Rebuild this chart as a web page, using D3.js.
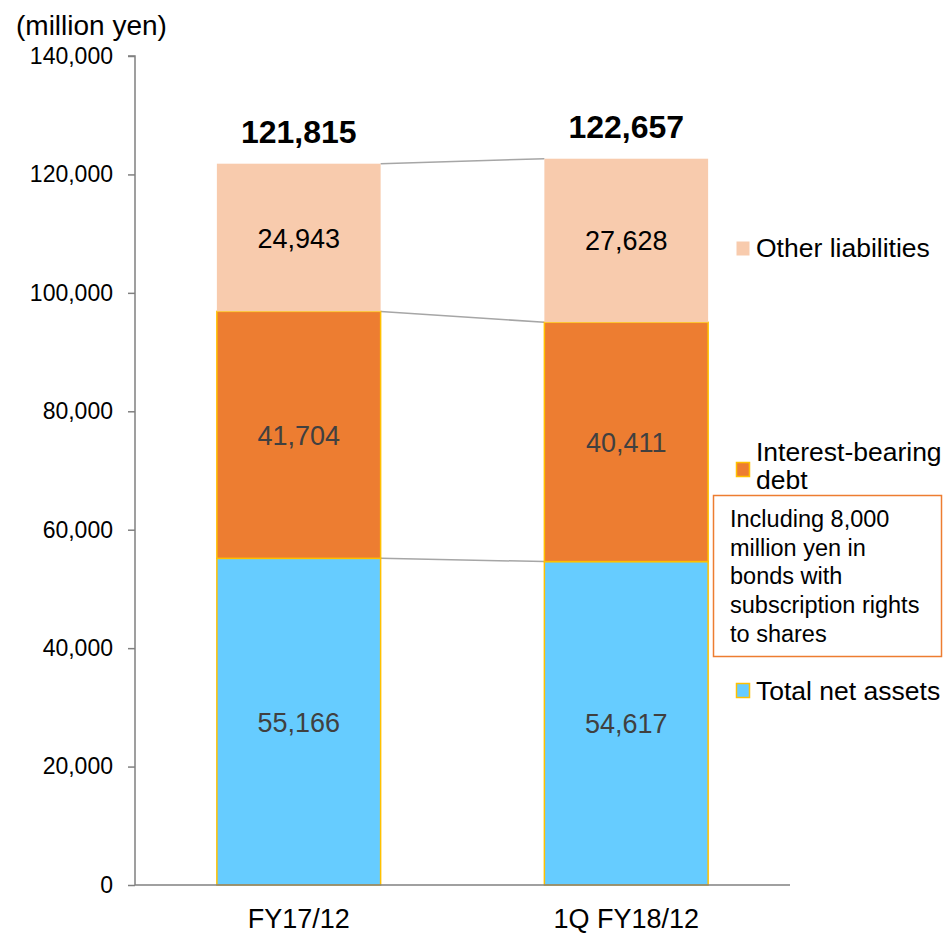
<!DOCTYPE html>
<html>
<head>
<meta charset="utf-8">
<script src="https://cdn.jsdelivr.net/npm/d3@7"></script>
<style>
  body { margin: 0; background: #fff; }
  svg { font-family: "Liberation Sans", Arial, sans-serif; }
</style>
</head>
<body>
<svg id="chart" width="946" height="933"></svg>
<script>
// Balance-sheet liabilities & net assets (million yen)
const categories = ["FY17/12", "1Q FY18/12"];
const series = ["Total net assets", "Interest-bearing debt", "Other liabilities"];
const netAssets = [55166, 54617];
const interestDebt = [41704, 40411];
const otherLiab = [24943, 27628];
const totals = [121815, 122657];
const yTicks = [0, 20000, 40000, 60000, 80000, 100000, 120000, 140000];
const noteLines = ["Including 8,000", "million yen in", "bonds with", "subscription rights", "to shares"];

const colors = { "Total net assets": "#66CCFF", "Interest-bearing debt": "#ED7D31", "Other liabilities": "#F8CBAD" };
const labelColors = { "Total net assets": "#404040", "Interest-bearing debt": "#404040", "Other liabilities": "#000" };
const FONT = "Liberation Sans, Arial, sans-serif";

const svg = d3.select("#chart");
const fmt = d3.format(",");

const x = d3.scaleBand().domain(categories).range([135, 790]).paddingInner(0.5).paddingOuter(0.25);
const y = d3.scaleLinear().domain([0, 140000]).range([885, 56]);

const rows = categories.map((c, i) => ({
  cat: c,
  "Total net assets": netAssets[i],
  "Interest-bearing debt": interestDebt[i],
  "Other liabilities": otherLiab[i]
}));
const stacked = d3.stack().keys(series)(rows);

// connector lines between stacked segment tops
const g = svg.append("g");
stacked.forEach(layer => {
  g.append("line")
    .attr("x1", x(categories[0]) + x.bandwidth())
    .attr("y1", y(layer[0][1]))
    .attr("x2", x(categories[1]))
    .attr("y2", y(layer[1][1]))
    .attr("stroke", "#A6A6A6")
    .attr("stroke-width", 1.5);
});

// bars
stacked.forEach(layer => {
  const key = layer.key;
  g.selectAll(null).data(layer).enter().append("rect")
    .attr("x", (d, i) => x(categories[i]))
    .attr("y", d => y(d[1]))
    .attr("width", x.bandwidth())
    .attr("height", d => y(d[0]) - y(d[1]))
    .attr("fill", colors[key])
    .attr("stroke", key === "Other liabilities" ? "none" : "#FFC000")
    .attr("stroke-width", 1.5);
});

// segment value labels
stacked.forEach(layer => {
  const key = layer.key;
  g.selectAll(null).data(layer).enter().append("text")
    .attr("x", (d, i) => x(categories[i]) + x.bandwidth() / 2)
    .attr("y", d => (y(d[0]) + y(d[1])) / 2 + 10)
    .attr("text-anchor", "middle")
    .attr("font-size", 27)
    .attr("fill", labelColors[key])
    .text(d => fmt(d[1] - d[0]));
});

// totals
g.selectAll(null).data(totals).enter().append("text")
  .attr("x", (d, i) => x(categories[i]) + x.bandwidth() / 2)
  .attr("y", (d, i) => y(d) - 21)
  .attr("text-anchor", "middle")
  .attr("font-size", 32)
  .attr("font-weight", "bold")
  .attr("fill", "#000")
  .text(d => fmt(d));

// y axis
const yAxis = svg.append("g")
  .attr("transform", "translate(135,0)")
  .call(d3.axisLeft(y).tickValues(yTicks).tickFormat(fmt).tickSize(7).tickPadding(15));
yAxis.attr("font-size", 23).attr("font-family", FONT);
yAxis.select(".domain").attr("stroke", "#808080").attr("stroke-width", 1.5).attr("d", "M-7,56H0V885");
yAxis.selectAll(".tick line").attr("stroke", "#808080").attr("stroke-width", 1.5);
yAxis.selectAll(".tick text").attr("fill", "#000");

// x axis
const xAxis = svg.append("g")
  .attr("transform", "translate(0,885)")
  .call(d3.axisBottom(x).tickSize(0).tickPadding(24));
xAxis.attr("font-size", 27).attr("font-family", FONT);
xAxis.select(".domain").attr("stroke", "#808080").attr("stroke-width", 1.5).attr("d", "M135,0H790");
xAxis.selectAll(".tick text").attr("fill", "#000").attr("dy", null).attr("y", 43);

// unit label
svg.append("text").attr("x", 16).attr("y", 35).attr("font-size", 28).attr("fill", "#000").text("(million yen)");

// legend
const legend = [
  { key: "Other liabilities", lines: ["Other liabilities"], y: 257, my: 248.5 },
  { key: "Interest-bearing debt", lines: ["Interest-bearing", "debt"], y: 461, my: 469.5 },
  { key: "Total net assets", lines: ["Total net assets"], y: 700, my: 690.5 }
];
legend.forEach(l => {
  svg.append("rect")
    .attr("x", 736.5).attr("y", l.my - 7).attr("width", 13).attr("height", 14)
    .attr("fill", colors[l.key])
    .attr("stroke", l.key === "Other liabilities" ? "none" : "#FFC000")
    .attr("stroke-width", 1.5);
  l.lines.forEach((ln, i) => {
    svg.append("text")
      .attr("x", 756).attr("y", l.y + i * 28)
      .attr("font-size", 26.5).attr("fill", "#000")
      .text(ln);
  });
});

// note box
svg.append("rect").attr("x", 713.5).attr("y", 495.5).attr("width", 228).attr("height", 161)
  .attr("fill", "#fff").attr("stroke", "#ED7D31").attr("stroke-width", 1.5);
noteLines.forEach((ln, i) => {
  svg.append("text")
    .attr("x", 730).attr("y", 527 + i * 28.7)
    .attr("font-size", 23.5).attr("fill", "#000")
    .text(ln);
});
</script>
</body>
</html>
